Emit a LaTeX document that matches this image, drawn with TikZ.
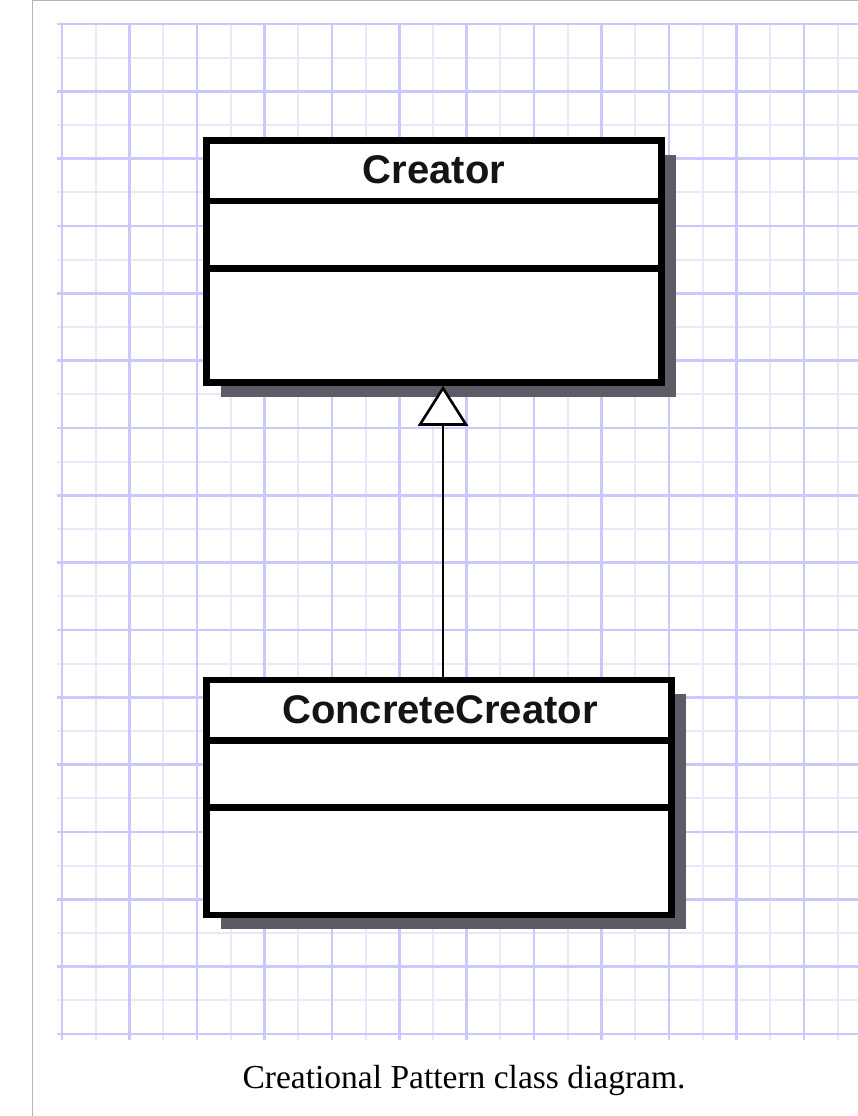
\documentclass[tikz,border=0pt]{standalone}
\usepackage{fontspec}
\setmainfont{Liberation Serif}
\setsansfont{Liberation Sans}
\usetikzlibrary{arrows.meta,shadows}
\definecolor{gridmajor}{HTML}{C9C9FB}
\definecolor{gridminor}{HTML}{E8E8FA}
\definecolor{shadowc}{HTML}{5C5C66}
\definecolor{framec}{HTML}{B4B4B4}
\begin{document}
\begin{tikzpicture}[x=1pt,y=-1pt,
  classbox/.style={rectangle, draw=black, fill=white, line width=6.5pt, inner sep=0pt,
    drop shadow={fill=shadowc, opacity=1, shadow xshift=14pt, shadow yshift=-14pt}},
  classname/.style={font=\sffamily\bfseries\fontsize{40}{48}\selectfont, text=black!92, inner sep=0pt, anchor=base},
  divider/.style={line width=6.5pt, draw=black},
  gen/.style={line width=2.6pt, draw=black, -{Triangle[length=40pt,width=50pt,fill=white]}},
  majorline/.style={draw=gridmajor, line width=2.6pt},
  minorline/.style={draw=gridminor, line width=2pt},
  framestyle/.style={draw=framec, line width=1.2pt},
  captionstyle/.style={font=\fontsize{33.5}{40}\selectfont, inner sep=0pt, anchor=base}
]
% canvas
\fill[white] (0,0) rectangle (858,1116);
\useasboundingbox (0,0) rectangle (858,1116);
% frame
\draw[framestyle] (32.5,1116) -- (32.5,0.6) -- (858,0.6);
% grid
\begin{scope}
  \clip (57,24) rectangle (858,1040);
  \foreach \k in {0,...,11} {
    \draw[minorline] ({95.7+67.45*\k},24) -- ({95.7+67.45*\k},1040);
  }
  \foreach \k in {0,...,14} {
    \draw[minorline] (57,{57.7+67.33*\k}) -- (858,{57.7+67.33*\k});
  }
  \foreach \k in {0,...,11} {
    \draw[majorline] ({62+67.45*\k},24) -- ({62+67.45*\k},1040);
  }
  \foreach \k in {0,...,15} {
    \draw[majorline] (57,{24+67.33*\k}) -- (858,{24+67.33*\k});
  }
\end{scope}
% Creator class
\node[classbox, minimum width=455pt, minimum height=242pt] (cr) at (434,261.5) {};
\draw[divider] ([yshift=-63.5pt]cr.north west) -- ([yshift=-63.5pt]cr.north east);
\draw[divider] ([yshift=-131pt]cr.north west) -- ([yshift=-131pt]cr.north east);
\node[classname] (crname) at (434,183) {Creator};
% ConcreteCreator class
\node[classbox, minimum width=465pt, minimum height=235pt] (cc) at (439,797.5) {};
\draw[divider] ([yshift=-63.5pt]cc.north west) -- ([yshift=-63.5pt]cc.north east);
\draw[divider] ([yshift=-130.5pt]cc.north west) -- ([yshift=-130.5pt]cc.north east);
\node[classname] (ccname) at (440,723) {ConcreteCreator};
% generalization
\coordinate (ax) at (443,0);
\draw[gen] (cc.north -| ax) -- (cr.south -| ax);
% caption
\node[captionstyle] (cap) at (464,1088) {Creational Pattern class diagram.};
\end{tikzpicture}
\end{document}
